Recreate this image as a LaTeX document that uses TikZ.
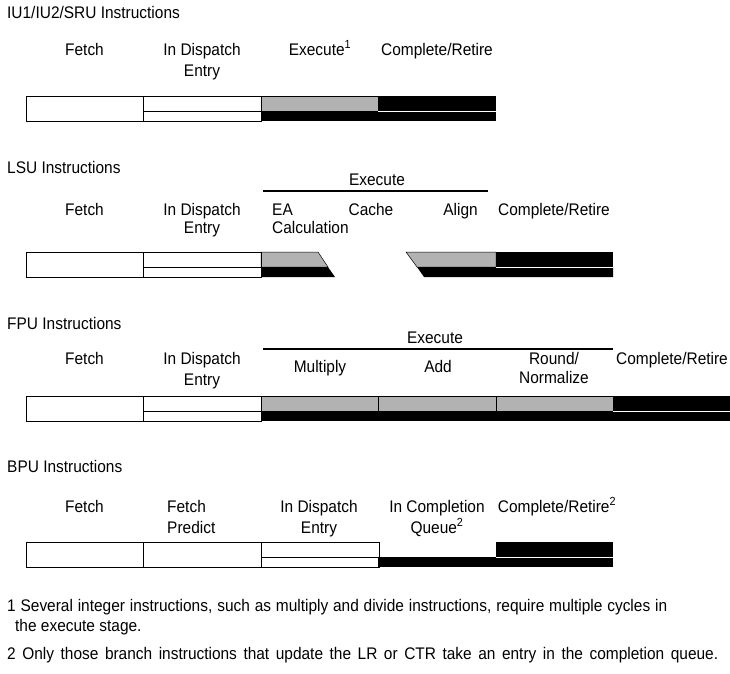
\documentclass[tikz,border=0pt]{standalone}
\usepackage{fontspec}
\setmainfont{Liberation Sans}[FakeStretch=0.92]
\usetikzlibrary{positioning}

\begin{document}
\begin{tikzpicture}[
    x=1pt, y=-1pt,
    font=\fontsize{16.8}{21}\selectfont,
    lbl/.style   = {anchor=base, inner sep=0pt, align=center},
    ttl/.style   = {anchor=base west, inner sep=0pt},
    note/.style  = {anchor=base west, inner sep=0pt},
    cell/.style  = {draw, line width=1pt},
    shade/.style = {fill=black!30, draw, line width=0.5pt},
    solid/.style = {fill=black},
    gap/.style   = {draw=white, line width=1pt},
    rule/.style  = {line width=1.1pt}
]
\useasboundingbox (0,0) rectangle (730,673);

% IU1/IU2/SRU ROW  (multi-line labels sit on their last baseline)
\node[ttl] (t1) at (7,18) {IU1/IU2/SRU Instructions};
\node[lbl] (f1) at (84.5,55) {Fetch};
\node[lbl] (d1) at (202,76) {In Dispatch\\Entry};
\node[lbl] (e1) at (320,55) {Execute\textsuperscript{1}};
\node[lbl] (c1) at (437,55) {Complete/Retire};

\path[shade] (261,96) rectangle (378,111);
\path[solid] (261,111) rectangle (496,121);
\path[solid] (378,96) rectangle (496,111);
\draw[gap] (378,111) -- (496,111);

% LSU ROW
\node[ttl] (t2) at (7,173) {LSU Instructions};
\node[lbl] (x2) at (377,185) {Execute};
\draw[rule] (263,191) -- (488,191);
\node[lbl] (f2) at (84.5,215) {Fetch};
\node[lbl] (d2) at (202,233) {In Dispatch\\[-3pt]Entry};
\node[lbl, anchor=base west, align=left] (a2) at (272,233) {EA\\[-3pt]Calculation};
\node[lbl] (k2) at (371,215) {Cache};
\node[lbl, anchor=base east] (g2) at (478,215) {Align};
\node[lbl] (c2) at (554,215) {Complete/Retire};

\path[shade] (261,252) -- (318,252) -- (328,267) -- (261,267) -- cycle;
\path[solid] (261,267) -- (328,267) -- (335,277) -- (261,277) -- cycle;
\path[shade] (406,252) -- (496,252) -- (496,267) -- (417,267) -- cycle;
\path[solid] (417,267) -- (613,267) -- (613,277) -- (424,277) -- cycle;
\path[solid] (496,252) rectangle (613,267);
\draw[gap] (496,267) -- (613,267);

% FPU ROW
\node[ttl] (t3) at (7,329) {FPU Instructions};
\node[lbl] (x3) at (435,343) {Execute};
\draw[rule] (263,349) -- (613,349);
\node[lbl] (f3) at (84.5,364) {Fetch};
\node[lbl] (d3) at (202,385) {In Dispatch\\Entry};
\node[lbl] (m3) at (320,372) {Multiply};
\node[lbl] (a3) at (438,372) {Add};
\node[lbl] (r3) at (554,383) {Round/\\[-2pt]Normalize};
\node[lbl] (c3) at (672,364) {Complete/Retire};

\path[shade] (261,396) rectangle (613,411);
\foreach \x in {378,496} \draw (\x,396) -- (\x,411);
\path[solid] (261,411) rectangle (730,421);
\path[solid] (613,396) rectangle (730,411);
\draw[gap] (613,411) -- (730,411);

% BPU ROW
\node[ttl] (t4) at (7,472) {BPU Instructions};
\node[lbl] (f4) at (84.5,512) {Fetch};
\node[lbl, anchor=base west, align=left] (p4) at (167,533) {Fetch\\Predict};
\node[lbl] (d4) at (319,533) {In Dispatch\\Entry};
\node[lbl] (q4) at (437,533) {In Completion\\Queue\textsuperscript{2}};
\node[lbl] (c4) at (557,512) {Complete/Retire\textsuperscript{2}};

\path[solid] (378,557) rectangle (613,567);
\path[solid] (496,542) rectangle (613,557);
\draw[gap] (496,557) -- (613,557);

% WHITE CELLS (fetch, predict, dispatch)
\foreach \y in {96,252,396,542}{ \draw[cell] (26,\y) rectangle (143,\y+25); }
\draw[cell] (143,542) rectangle (261,567);
\foreach \x/\y/\s in {143/96/111, 143/252/267, 143/396/411, 261/542/557}{
  \draw[cell] (\x,\y) rectangle (\x+118,\y+25);
  \draw[cell] (\x,\s) -- (\x+118,\s);
}

% FOOTNOTES
\node[note] (n1) at (7,611) {\makebox[660pt][s]{1 Several integer instructions, such as multiply and divide instructions, require multiple cycles in}};
\node[note] (n1b) at (15,631) {the execute stage.};
\node[note] (n2) at (7,659) {\makebox[711pt][s]{2 Only those branch instructions that update the LR or CTR take an entry in the completion queue.}};

\end{tikzpicture}
\end{document}
